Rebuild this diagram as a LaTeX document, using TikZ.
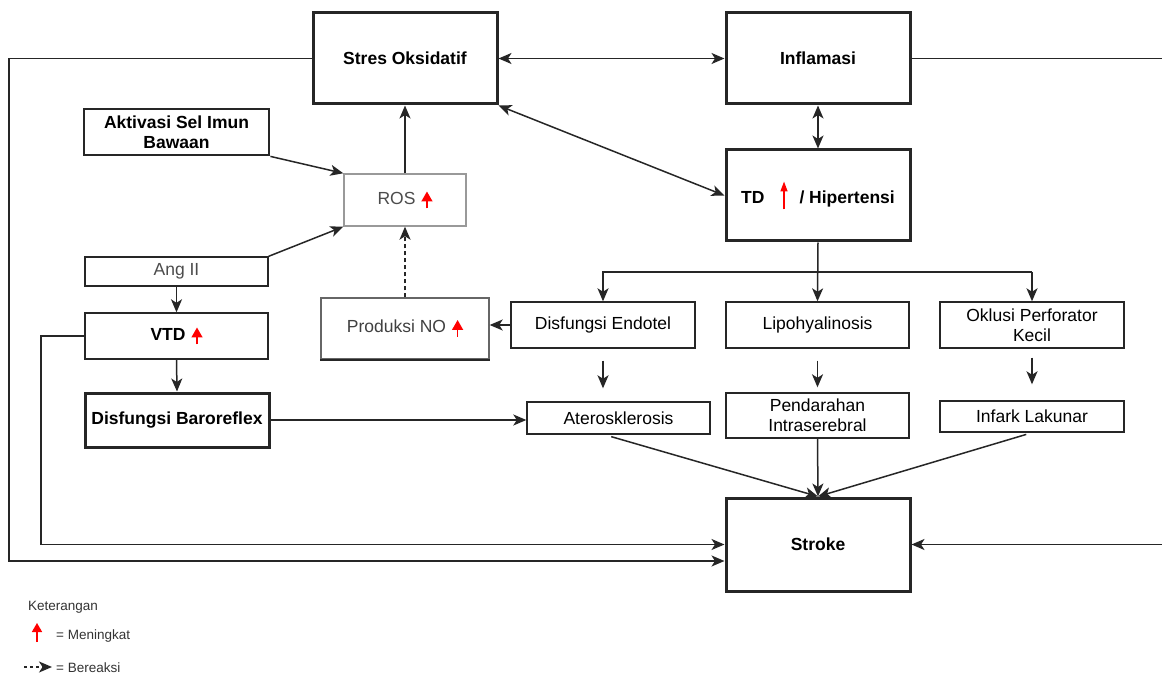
\documentclass[tikz,border=0pt]{standalone}
\usepackage{fontspec}
\setmainfont{Liberation Sans}
\usetikzlibrary{arrows.meta,calc}
\newcommand{\upR}{\tikz[baseline=0pt]\draw[red,line width=1.6pt,-{Triangle[length=10pt,width=11pt]}] (0pt,-4pt) -- (0pt,13pt);}
\newcommand{\tdUp}{\tikz[baseline=0pt]\draw[red,line width=1.5pt,-{Triangle[length=10pt,width=7pt]}] (0pt,-6pt) -- (0pt,22pt);}
\begin{document}
\begin{tikzpicture}[x=1pt,y=-1pt,
  thickbox/.style={draw=black!85, line width=3pt, font=\fontsize{17.5}{20}\selectfont\bfseries, align=center, inner sep=0pt},
  thinbox/.style={draw=black!85, line width=1.4pt, font=\fontsize{17.5}{20}\selectfont, align=center, inner sep=0pt},
  conn/.style={draw=black!85, line width=1.5pt},
  arr/.style={-{Stealth[length=13pt,width=11pt,inset=3.5pt]}},
  biarr/.style={{Stealth[length=13pt,width=11pt,inset=3.5pt]}-{Stealth[length=13pt,width=11pt,inset=3.5pt]}},
  legend/.style={anchor=west, font=\fontsize{13.5}{15}\selectfont, text=black!80, inner sep=0pt}]
\useasboundingbox (0,0) rectangle (1162,676);
\fill[white] (0,0) rectangle (1162,676);

% boxes
\node[thickbox, minimum width=184pt, minimum height=91pt] (so) at (405,58.5) {Stres Oksidatif};
\node[thickbox, minimum width=184pt, minimum height=91pt] (inf) at (818,58.5) {Inflamasi};
\node[thickbox, minimum width=184pt, minimum height=91pt] (td) at (818,195.5) {TD\hspace{16pt}\tdUp\hspace{12pt}/ Hipertensi};
\node[thickbox, line width=2.8pt, minimum width=185pt, minimum height=46pt] (akt) at (176.5,132) {Aktivasi Sel Imun\\Bawaan};
\node[thinbox, draw=black!40, text=black!70, minimum width=122pt, minimum height=52pt] (ros) at (405,200) {ROS\hspace{6pt}\upR};
\node[thinbox, text=black!70, minimum width=183pt, minimum height=29pt] (ang) at (176.5,271.5) {Ang II};
\node[thinbox, font=\fontsize{17.5}{20}\selectfont\bfseries, minimum width=183pt, minimum height=46pt] (vtd) at (176.5,336) {VTD\hspace{6pt}\upR};
\node[thickbox, minimum width=184pt, minimum height=54pt] (baro) at (177,420) {Disfungsi Baroreflex};
\node[thinbox, draw=black!60, text=black!75, minimum width=168pt, minimum height=61pt] (no) at (405,328.5) {Produksi NO\hspace{6pt}\upR};
\draw[black!85, line width=1.8pt] (no.south west) -- (no.south east);
\node[thinbox, minimum width=184pt, minimum height=46pt] (de) at (603,325) {Disfungsi Endotel};
\node[thinbox, minimum width=183pt, minimum height=46pt] (lipo) at (817.5,325) {Lipohyalinosis};
\node[thinbox, minimum width=184pt, minimum height=46pt] (okl) at (1032,325) {Oklusi Perforator\\Kecil};
\node[thinbox, minimum width=183pt, minimum height=32pt] (ath) at (618.5,418) {Aterosklerosis};
\node[thinbox, minimum width=183pt, minimum height=45pt] (pen) at (817.5,415.5) {Pendarahan\\Intraserebral};
\node[thinbox, minimum width=184pt, minimum height=31pt] (ink) at (1032,416.5) {Infark Lakunar};
\node[thickbox, minimum width=184pt, minimum height=93pt] (stroke) at (818,544.5) {Stroke};

% coordinates for routing
\coordinate (sl) at (9,0);
\coordinate (vl) at (41,0);
\coordinate (rl) at (1166,0);
\coordinate (bl) at (603,272);
\coordinate (br) at (1032,272);

% connectors
\draw[conn,biarr] (so.east) -- (inf.west);
\draw[conn,biarr] (inf.south) -- (td.north);
\draw[conn,biarr] (so.south east) -- (td.west);
\draw[conn,arr] (so.west) -- (so.west -| sl) |- ($(stroke.west)+(0,16.5)$);
\draw[conn,arr] (inf.east) -- (inf.east -| rl) |- (stroke.east);
\draw[conn,arr] (akt.south east) -- (ros.north west);
\draw[conn,arr] (ang.north east) -- (ros.south west);
\draw[conn,arr] (ros.north) -- (so.south);
\draw[conn,arr,dash pattern=on 4pt off 3pt] (no.north) -- (ros.south);
\draw[conn,arr] (ang.south) -- (vtd.north);
\draw[conn,arr] (vtd.south) -- (baro.north);
\draw[conn,arr] (vtd.west) -- (vtd.west -| vl) |- (stroke.west);
\draw[conn,arr] (baro.east) -- (baro.east -| ath.west);
\draw[conn,arr] (td.south) -- (lipo.north);
\draw[conn,arr] (br) -- (okl.north);
\draw[conn,arr] (br) -- (bl) -- (de.north);
\draw[conn,arr] (de.west) -- (de.west -| no.east);
\draw[conn,arr,shorten <=12pt,shorten >=13pt] (de.south) -- (de.south |- ath.north);
\draw[conn,arr,shorten <=12pt,shorten >=5pt] (lipo.south) -- (pen.north);
\draw[conn,arr,shorten <=9pt,shorten >=16pt] (okl.south) -- (ink.north);
\draw[conn,arr,shorten <=7pt] ($(ath.south)+(-14,0)$) -- (stroke.north);
\draw[conn,arr] (pen.south) -- (stroke.north);
\draw[conn,arr,shorten <=6pt] (ink.south) -- (stroke.north);

% legend
\node[legend] (ket) at (28,607) {Keterangan};
\draw[red,line width=1.6pt,-{Triangle[length=9pt,width=10pt]}] (37,642) -- (37,623);
\node[legend] (men) at (56,636) {= Meningkat};
\coordinate (d1) at (24,667);
\coordinate (d2) at (52,667);
\draw[conn,arr,dash pattern=on 3pt off 3pt] (d1) -- (d2);
\node[legend] (ber) at (56,668) {= Bereaksi};
\end{tikzpicture}
\end{document}
